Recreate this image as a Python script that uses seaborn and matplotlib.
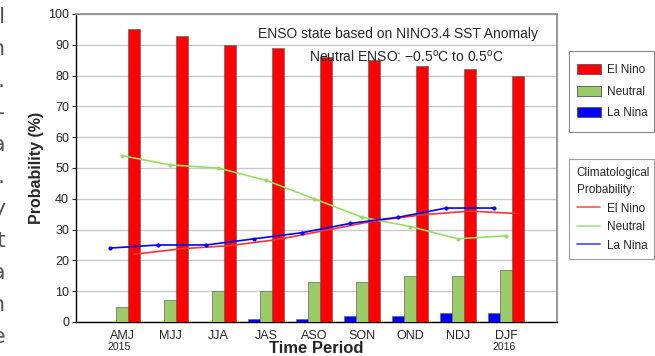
import numpy as np
import pandas as pd
import matplotlib
matplotlib.use('Agg')
import matplotlib.pyplot as plt
from matplotlib.patches import Patch, Rectangle
from matplotlib.lines import Line2D
import seaborn as sns

# ENSO probability forecast (NINO3.4)
periods = ['AMJ', 'MJJ', 'JJA', 'JAS', 'ASO', 'SON', 'OND', 'NDJ', 'DJF']
la_nina = [0, 0, 0, 1, 1, 2, 2, 3, 3]
neutral = [5, 7, 10, 10, 13, 13, 15, 15, 17]
el_nino = [95, 93, 90, 89, 86, 85, 83, 82, 80]

# climatological probabilities
clim_el_nino = [22, 23.8, 24.8, 26.8, 29.8, 32.8, 34.8, 36, 35.2]
clim_neutral = [54, 51, 50, 46, 40, 34, 31, 27, 28]
clim_la_nina = [24, 25, 25, 27, 29, 32, 34, 37, 37]

red = '#ff0000'
green = '#99cc66'
blue = '#0000ff'

df = pd.DataFrame({
    'Period': periods * 3,
    'State': ['La Nina'] * 9 + ['Neutral'] * 9 + ['El Nino'] * 9,
    'Prob': la_nina + neutral + el_nino,
})

sns.set_style('white')
plt.rcParams['font.family'] = ['Liberation Sans', 'DejaVu Sans']
plt.rcParams['mathtext.fontset'] = 'custom'
plt.rcParams['mathtext.rm'] = 'Liberation Sans'

fig = plt.figure(figsize=(6.55, 3.56), dpi=100)
ax = fig.add_axes([76/655, 34/356, 481/655, 308/356])

sns.barplot(data=df, x='Period', y='Prob', hue='State',
            hue_order=['La Nina', 'Neutral', 'El Nino'],
            palette=[blue, green, red], saturation=1, width=0.75, dodge=True,
            edgecolor='#666666', linewidth=0.5, ax=ax, legend=False,
            errorbar=None, zorder=3)

x = np.arange(len(periods))
sns.lineplot(x=x + 0.25, y=clim_el_nino, color='#ff3333', lw=1.2, ax=ax, zorder=4)
sns.lineplot(x=x, y=clim_neutral, color='#99dd66', lw=1.2, marker='o',
             markersize=3, markeredgewidth=0, ax=ax, zorder=4)
sns.lineplot(x=x - 0.25, y=clim_la_nina, color='#0000ff', lw=1.2, marker='o',
             markersize=3, markeredgewidth=0, ax=ax, zorder=4)

ax.set_xlim(-0.96, 9.06)
ax.set_ylim(0, 100)
ax.set_yticks(range(0, 101, 10))
ax.yaxis.grid(True, color='#c8c8c8', lw=1, zorder=0)
ax.xaxis.grid(False)
ax.tick_params(axis='y', left=True, length=3, width=0.8, labelsize=9, pad=2, color='#333333')
ax.tick_params(axis='x', bottom=False, labelsize=9, pad=2)
for s in ['left', 'bottom']:
    ax.spines[s].set_color('black')
    ax.spines[s].set_linewidth(1)
for s in ['top', 'right']:
    ax.spines[s].set_color('#888888')
    ax.spines[s].set_linewidth(1.2)
ax.set_ylabel('Probability (%)', fontsize=11.5, fontweight='bold', labelpad=3)
ax.set_xlabel('')
fig.text(316/655, 3/356, 'Time Period', ha='center', va='baseline',
         fontsize=12, fontweight='bold')

fig.text(398/655, 1 - 34/356, 'ENSO state based on NINO3.4 SST Anomaly',
         ha='center', va='center', fontsize=10)
fig.text(406/655, 1 - 57/356,
         r'Neutral ENSO: $-$0.5$^{\mathrm{o}}$C to 0.5$^{\mathrm{o}}$C',
         ha='center', va='center', fontsize=10)
fig.text(119/655, 1 - 347/356, '2015', ha='center', va='center', fontsize=7.5)
fig.text(504/655, 1 - 347/356, '2016', ha='center', va='center', fontsize=7.5)

# cut-off text from the neighbouring page column
for k, ch in enumerate(['l', 'n', '.', '-', 'a', '.', 'y', 't', 'a', 'n', 'e']):
    fig.text(5/655, 1 - (23 + 32 * k)/356, ch, ha='right', va='baseline',
             fontsize=16, color='#555555', family='DejaVu Sans')

# forecast legend: frame drawn separately so the entries sit where they should
fig.patches.append(Rectangle((569/655, 1 - 132/356), 85/655, 81/356,
                             transform=fig.transFigure, facecolor='white',
                             edgecolor='#888888', lw=0.8, zorder=1))
h1 = [Patch(facecolor=red, edgecolor='#555555', lw=0.6, label='El Nino'),
      Patch(facecolor=green, edgecolor='#555555', lw=0.6, label='Neutral'),
      Patch(facecolor=blue, edgecolor='#555555', lw=0.6, label='La Nina')]
leg1 = fig.legend(handles=h1, loc='upper left',
                  bbox_to_anchor=(577/655, 1 - 64/356),
                  fontsize=8.5, frameon=False, borderpad=0, labelspacing=0.8,
                  handlelength=2.0, handleheight=0.95, handletextpad=0.55,
                  borderaxespad=0)

h2 = [Line2D([], [], color='#ff5555', lw=1.2, label='El Nino'),
      Line2D([], [], color='#aade88', lw=1.2, label='Neutral'),
      Line2D([], [], color='#4444ff', lw=1.2, label='La Nina')]
leg2 = fig.legend(handles=h2, loc='upper left',
                  bbox_to_anchor=(569/655, 1 - 258/356, 85/655, 99/356),
                  mode='expand', fontsize=8.5, frameon=True, fancybox=False,
                  edgecolor='#888888', borderpad=0.65, labelspacing=0.55,
                  handlelength=2.0, handletextpad=0.55, borderaxespad=0,
                  title='Climatological\nProbability:', title_fontsize=8.5,
                  alignment='left')
leg2.get_frame().set_linewidth(0.8)
leg2.get_title().set_linespacing(1.6)

fig.savefig('out.png', dpi=100)
